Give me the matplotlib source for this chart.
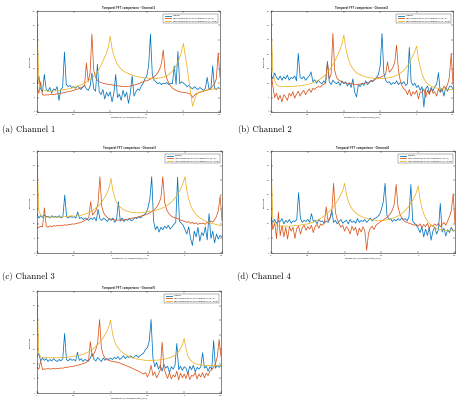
import numpy as np
import matplotlib
matplotlib.use("Agg")
import matplotlib.pyplot as plt

# ---------------- data ----------------
freq = np.linspace(0.0, 2.5, 101)
x_ticks = [0, 0.5, 1, 1.5, 2, 2.5]
x_tick_labels = ["0", "0.5", "1", "1.5", "2", "2.5"]
y_ticks = [0, 5, 10, 15, 20, 25, 30, 35]
series_names = ["original",
                "reconstruction by the harmonics (K=5)",
                "reconstruction by the harmonics (L=256)"]
channels = ["Channel1", "Channel2", "Channel3", "Channel4", "Channel5"]
captions = ["(a) Channel 1", "(b) Channel 2", "(c) Channel 3", "(d) Channel 4"]

orig_a = [9.5, 12.5, 8.0, 7.0, 13.0, 8.0, 7.2, 8.5, 6.5, 8.0,
          7.5, 8.8, 4.0, 7.8, 8.5, 20.8, 9.5, 8.8, 9.2, 8.5,
          8.8, 8.2, 9.0, 8.5, 7.8, 8.6, 9.2, 8.0, 7.5, 8.8,
          13.5, 8.0, 7.2, 16.5, 7.0, 6.0, 7.8, 4.5, 6.8, 5.5,
          7.0, 3.5, 6.5, 13.0, 5.0, 6.2, 4.0, 7.5, 5.2, 6.8,
          3.0, 6.5, 12.5, 5.5, 7.0, 8.0, 7.5, 9.0, 10.0, 11.5,
          12.5, 16.0, 27.0, 13.0, 11.0, 10.5, 9.8, 10.2, 9.5, 10.0,
          9.8, 10.2, 9.5, 10.0, 9.8, 16.0, 9.5, 21.0, 9.8, 10.5,
          10.0, 9.5, 8.8, 9.2, 8.5, 8.0, 8.8, 8.2, 7.8, 8.5,
          8.0, 7.5, 8.2, 12.0, 7.8, 8.0, 16.0, 8.2, 7.8, 8.5,
          8.0]
recK_a = [9.0, 6.5, 10.5, 6.0, 5.8, 6.0, 5.9, 6.0, 6.1, 6.0,
          6.2, 6.3, 6.3, 6.5, 6.6, 6.8, 6.9, 7.0, 7.2, 7.3,
          7.5, 7.7, 7.9, 8.1, 8.4, 8.7, 9.2, 17.0, 10.5, 13.5,
          27.0, 14.5, 12.0, 11.0, 10.5, 10.2, 10.0, 9.8, 9.7, 9.6,
          9.5, 9.4, 9.3, 9.2, 9.1, 9.0, 8.9, 8.8, 8.8, 8.8,
          8.9, 9.0, 9.1, 9.3, 9.5, 9.7, 9.9, 10.2, 10.5, 10.8,
          10.8, 11.1, 11.4, 11.8, 12.2, 12.8, 13.6, 14.8, 16.8, 21.5,
          14.0, 11.5, 10.0, 9.0, 8.3, 7.8, 7.5, 7.2, 7.0, 6.9,
          6.8, 6.7, 6.6, 6.4, 6.0, 5.0, 5.8, 6.4, 6.6, 6.8,
          7.0, 7.2, 7.4, 7.6, 7.9, 8.3, 8.9, 9.8, 11.5, 20.5,
          12.0]
recL_a = [33.0, 10.0, 8.5, 7.8, 7.5, 7.3, 7.2, 7.2, 7.2, 7.3,
          7.3, 7.4, 7.5, 7.6, 7.7, 7.8, 7.9, 8.0, 8.1, 8.3,
          8.5, 8.7, 8.9, 9.1, 9.4, 9.7, 10.0, 10.4, 10.8, 11.3,
          11.8, 12.4, 13.1, 14.0, 15.0, 16.2, 17.6, 19.0, 20.5, 22.5,
          26.3, 22.0, 19.5, 17.8, 16.5, 15.6, 14.9, 14.3, 13.9, 13.6,
          13.3, 13.0, 12.8, 12.6, 12.4, 12.2, 12.1, 12.0, 11.9, 11.8,
          11.8, 11.7, 11.7, 11.6, 11.6, 11.6, 11.7, 11.8, 11.9, 12.1,
          12.3, 12.6, 13.0, 13.5, 14.2, 15.0, 16.0, 17.3, 19.0, 21.0,
          23.8, 19.5, 15.5, 11.0, 6.5, 2.0, 4.0, 5.8, 6.6, 7.0,
          7.2, 7.4, 7.5, 7.6, 7.7, 7.8, 7.9, 8.0, 8.0, 8.1,
          8.1]

orig_b = [13.0, 11.5, 13.5, 12.0, 11.2, 12.5, 11.0, 12.2, 11.5, 12.8,
          11.0, 12.0, 11.6, 12.5, 10.8, 20.3, 12.0, 11.5, 12.3, 11.0,
          11.8, 12.5, 13.9, 10.5, 11.2, 10.0, 11.0, 10.2, 9.8, 10.8,
          10.0, 17.5, 10.5, 9.5, 11.0, 10.2, 9.8, 10.5, 9.2, 10.8,
          9.8, 10.5, 9.0, 10.2, 8.5, 11.5, 6.8, 5.2, 9.5, 8.8,
          10.0, 9.2, 10.8, 9.5, 10.2, 11.0, 10.5, 11.5, 12.0, 13.0,
          16.0, 27.2, 13.5, 11.0, 10.2, 10.5, 9.5, 10.2, 9.8, 10.8,
          9.5, 10.2, 9.8, 10.5, 9.2, 9.8, 22.4, 10.5, 9.2, 10.0,
          8.5, 9.2, 7.5, 8.8, 1.7, 8.0, 9.0, 6.5, 8.5, 7.2,
          8.8, 9.5, 13.6, 7.0, 8.2, 5.5, 8.5, 7.2, 8.8, 9.0,
          8.0]
recK_b = [13.9, 9.0, 5.0, 6.5, 4.2, 5.8, 3.5, 6.0, 5.2, 4.0,
          6.5, 5.5, 7.0, 4.8, 6.2, 7.2, 5.5, 6.8, 7.5, 6.0,
          7.2, 8.0, 6.8, 8.2, 7.8, 8.5, 8.8, 8.6, 9.2, 9.6,
          10.2, 17.4, 11.5, 13.0, 27.2, 14.5, 12.0, 11.2, 10.8, 10.5,
          10.2, 10.0, 9.9, 9.8, 9.8, 9.7, 9.6, 9.5, 9.6, 9.7,
          9.8, 9.9, 10.0, 10.2, 10.4, 10.6, 10.8, 11.2, 11.6, 12.0,
          12.0, 12.3, 12.6, 13.0, 17.4, 13.8, 14.5, 15.5, 17.2, 23.2,
          14.5, 11.0, 9.0, 8.0, 7.5, 6.0, 7.8, 5.5, 7.0, 6.2,
          7.5, 4.5, 7.0, 6.8, 8.0, 5.0, 7.5, 6.0, 8.2, 6.5,
          7.0, 5.5, 8.0, 6.8, 7.5, 9.0, 8.2, 9.5, 12.0, 20.3,
          9.5]
recL_b = [32.5, 14.0, 11.0, 9.5, 9.0, 8.9, 8.8, 8.8, 8.8, 8.8,
          8.8, 8.8, 8.9, 8.9, 9.0, 9.0, 9.1, 9.2, 9.3, 9.4,
          9.5, 9.7, 9.9, 10.1, 10.4, 10.7, 11.0, 11.4, 11.9, 12.4,
          13.0, 13.7, 14.5, 15.4, 16.4, 17.5, 18.8, 20.2, 21.8, 23.5,
          26.7, 22.5, 19.5, 17.5, 16.0, 15.0, 14.2, 13.6, 13.2, 12.9,
          12.6, 12.4, 12.2, 12.0, 11.9, 11.8, 11.7, 11.6, 11.6, 11.6,
          11.6, 11.6, 11.7, 11.7, 11.8, 11.9, 12.0, 12.2, 12.4, 12.7,
          13.0, 13.4, 13.9, 14.5, 15.2, 16.0, 17.0, 18.2, 19.5, 21.0,
          22.8, 18.5, 15.5, 13.2, 11.5, 10.5, 9.8, 9.3, 9.0, 8.7,
          8.5, 8.3, 8.2, 8.1, 8.0, 7.9, 7.9, 7.8, 7.8, 7.8,
          7.8]

orig_c = [13.5, 12.0, 12.8, 12.2, 13.0, 12.4, 12.6, 12.0, 12.8, 12.3,
          12.6, 12.2, 12.8, 12.0, 12.5, 19.9, 12.4, 12.0, 12.6, 12.2,
          12.5, 12.0, 14.1, 11.8, 12.2, 11.5, 12.0, 11.6, 11.2, 12.0,
          11.5, 12.2, 11.0, 15.0, 11.8, 11.2, 12.0, 11.5, 10.8, 11.8,
          11.2, 12.0, 10.5, 11.5, 17.6, 11.0, 12.0, 10.8, 11.5, 11.2,
          11.8, 11.0, 11.5, 12.2, 11.8, 12.5, 12.0, 12.8, 13.2, 13.8,
          15.5, 18.5, 26.2, 11.0, 8.0, 9.2, 7.2, 8.8, 8.0, 9.2,
          8.5, 9.5, 8.2, 9.0, 9.8, 10.5, 26.0, 11.0, 10.2, 9.5,
          8.0, 6.5, 9.0, 5.0, 2.6, 7.5, 5.5, 8.8, 4.0, 7.0,
          6.0, 9.0, 4.5, 13.5, 5.0, 7.5, 3.5, 6.5, 4.8, 6.0,
          5.5]
recK_c = [8.5, 8.8, 9.2, 9.0, 15.5, 9.2, 8.8, 9.3, 9.0, 9.4,
          9.2, 9.5, 9.3, 9.6, 9.4, 9.7, 9.5, 9.8, 9.7, 10.0,
          9.9, 10.1, 10.2, 10.4, 10.6, 10.9, 11.2, 11.6, 12.2, 17.6,
          13.0, 13.8, 14.8, 17.0, 26.2, 16.0, 13.8, 12.8, 12.2, 11.8,
          11.6, 11.5, 11.4, 11.3, 11.3, 11.3, 11.3, 11.4, 11.5, 11.6,
          11.8, 11.9, 12.0, 12.1, 12.2, 12.4, 12.6, 12.8, 13.0, 13.2,
          13.5, 13.8, 14.2, 14.6, 15.2, 16.0, 17.2, 19.0, 26.2, 17.5,
          15.0, 13.8, 13.0, 12.5, 12.2, 12.0, 11.8, 11.5, 11.2, 11.0,
          10.8, 10.5, 10.8, 10.2, 10.5, 10.0, 10.4, 9.8, 10.2, 10.0,
          10.3, 9.8, 10.5, 10.2, 11.0, 10.6, 11.5, 12.5, 14.5, 19.6,
          11.0]
recL_c = [33.0, 14.5, 13.0, 12.6, 12.4, 12.3, 12.3, 12.3, 12.3, 12.3,
          12.3, 12.3, 12.3, 12.4, 12.4, 12.5, 12.5, 12.6, 12.7, 12.8,
          12.6, 12.7, 12.8, 12.9, 13.0, 13.2, 13.4, 13.6, 13.9, 14.2,
          14.6, 15.0, 15.5, 16.0, 16.7, 17.5, 18.5, 19.5, 20.8, 22.5,
          25.6, 21.5, 19.0, 17.5, 16.5, 15.8, 15.2, 14.8, 14.5, 14.3,
          14.1, 14.0, 13.9, 13.8, 13.8, 13.8, 13.8, 13.9, 14.0, 14.1,
          14.2, 14.3, 14.4, 14.5, 14.6, 14.8, 15.0, 15.2, 15.5, 15.8,
          16.2, 16.6, 17.1, 17.7, 18.4, 19.2, 20.1, 21.2, 22.5, 24.0,
          26.2, 21.5, 18.5, 16.5, 15.0, 14.0, 13.2, 12.6, 12.1, 11.7,
          11.3, 11.0, 10.7, 10.5, 10.3, 10.1, 9.9, 9.8, 9.6, 9.5,
          9.5]

orig_d = [12.0, 10.5, 11.5, 10.2, 11.0, 10.8, 11.8, 10.0, 11.2, 10.5,
          11.5, 10.2, 11.0, 10.8, 11.5, 20.7, 11.8, 10.5, 11.2, 10.8,
          11.5, 10.5, 13.5, 10.8, 11.2, 10.0, 11.5, 10.8, 11.0, 10.2,
          11.0, 10.5, 11.8, 14.5, 10.5, 11.2, 10.0, 10.8, 11.5, 10.2,
          10.8, 11.2, 10.0, 11.5, 10.5, 11.0, 10.2, 11.8, 10.5, 11.2,
          10.8, 11.5, 10.5, 11.2, 12.0, 11.0, 11.8, 12.0, 12.5, 13.2,
          15.0, 17.5, 23.9, 13.0, 11.5, 11.8, 10.8, 11.5, 11.0, 11.8,
          11.2, 12.0, 11.5, 11.8, 11.0, 12.5, 23.5, 11.0, 10.2, 9.5,
          8.5, 7.0, 9.0, 5.5, 8.2, 6.0, 8.8, 4.4, 7.5, 9.0,
          6.5, 8.0, 17.0, 7.2, 8.5, 5.8, 8.0, 7.0, 8.8, 7.5,
          7.8]
recK_d = [12.5, 8.0, 10.5, 4.9, 14.1, 6.0, 9.5, 5.5, 8.8, 4.8,
          9.0, 7.5, 8.8, 5.0, 8.5, 9.2, 6.5, 8.8, 9.5, 7.8,
          9.0, 8.2, 9.5, 7.0, 9.2, 9.8, 8.5, 10.0, 9.5, 10.5,
          15.8, 11.0, 12.0, 13.5, 23.9, 14.0, 11.5, 10.0, 8.8, 9.5,
          7.5, 9.0, 8.2, 6.5, 9.2, 7.8, 8.8, 6.0, 8.5, 7.2,
          9.0, 7.5, 0.9, 6.8, 8.5, 9.2, 8.0, 9.5, 10.0, 10.5,
          11.0, 11.3, 11.8, 12.2, 12.8, 13.6, 14.8, 16.8, 23.5, 16.0,
          13.5, 12.0, 11.2, 10.7, 10.5, 10.2, 10.0, 9.8, 9.5, 9.8,
          9.2, 10.0, 8.8, 9.8, 9.0, 10.2, 8.5, 9.6, 9.2, 10.0,
          9.4, 10.2, 9.0, 9.8, 10.5, 9.5, 11.0, 12.5, 14.5, 20.4,
          10.0]
recL_d = [32.0, 11.8, 10.0, 9.5, 9.3, 9.2, 9.2, 9.2, 9.2, 9.2,
          9.2, 9.3, 9.3, 9.4, 9.4, 9.5, 9.6, 9.7, 9.8, 9.9,
          10.0, 10.2, 10.4, 10.6, 10.9, 11.2, 11.5, 11.9, 12.3, 12.8,
          13.3, 13.9, 14.5, 15.2, 16.0, 16.9, 17.8, 18.9, 20.0, 21.5,
          23.9, 20.0, 17.8, 16.3, 15.2, 14.4, 13.8, 13.3, 12.9, 12.6,
          12.3, 12.1, 11.9, 11.7, 11.5, 11.4, 11.3, 11.2, 11.2, 11.2,
          11.2, 11.2, 11.3, 11.4, 11.5, 11.7, 11.9, 12.1, 12.4, 12.7,
          13.1, 13.5, 14.0, 14.6, 15.3, 16.1, 17.0, 18.1, 19.3, 20.8,
          23.0, 18.5, 15.5, 13.5, 12.0, 11.0, 10.2, 9.6, 9.1, 8.7,
          8.4, 8.2, 8.0, 7.9, 7.8, 7.8, 7.8, 7.8, 7.8, 7.8,
          7.8]

orig_e = [12.5, 13.5, 11.0, 12.0, 11.2, 11.8, 10.8, 11.5, 11.0, 11.8,
          11.2, 10.8, 11.5, 11.0, 11.8, 20.4, 11.5, 11.0, 11.8, 11.2,
          11.5, 11.0, 14.0, 11.2, 11.8, 10.8, 11.5, 11.2, 11.0, 12.0,
          13.5, 11.5, 11.0, 12.2, 11.5, 10.8, 12.0, 11.2, 11.8, 11.5,
          12.0, 11.5, 12.2, 11.8, 12.5, 11.5, 12.0, 12.8, 11.8, 12.5,
          12.2, 12.8, 12.0, 12.5, 13.0, 12.2, 12.8, 13.2, 13.8, 15.0,
          15.5, 17.8, 25.2, 12.0, 9.0, 10.5, 8.2, 9.5, 7.5, 9.8,
          8.5, 9.2, 7.0, 9.0, 8.2, 9.5, 17.0, 8.0, 9.2, 7.8,
          9.0, 8.5, 6.5, 9.2, 8.0, 9.5, 7.2, 8.8, 8.2, 9.0,
          13.8, 8.5, 9.2, 7.5, 9.0, 8.2, 18.0, 8.5, 9.5, 8.8,
          9.5]
recK_e = [8.8, 8.2, 11.0, 8.0, 8.3, 8.2, 8.4, 8.2, 8.3, 8.4,
          8.3, 8.5, 8.4, 8.6, 8.5, 8.7, 8.8, 8.9, 9.0, 9.1,
          9.2, 9.4, 9.5, 9.7, 9.9, 10.1, 10.3, 10.6, 11.0, 17.6,
          12.5, 13.5, 15.0, 17.5, 25.2, 15.5, 13.0, 12.0, 11.5, 11.2,
          11.0, 10.8, 10.7, 10.6, 10.5, 10.3, 10.0, 9.8, 9.5, 9.2,
          9.0, 8.7, 8.4, 8.1, 7.8, 7.5, 7.2, 6.8, 6.5, 7.0,
          5.5, 6.8, 9.5, 6.0, 7.2, 5.2, 6.5, 8.0, 17.5, 8.5,
          6.5, 5.0, 7.0, 4.8, 6.2, 5.5, 7.5, 4.5, 6.8, 5.2,
          6.5, 5.0, 7.2, 4.6, 6.0, 5.8, 7.0, 4.8, 6.5, 5.5,
          7.0, 5.2, 6.8, 6.0, 7.5, 8.0, 8.8, 10.0, 12.5, 18.4,
          12.4]
recL_e = [33.0, 13.5, 12.4, 12.2, 12.1, 12.1, 12.1, 12.1, 12.1, 12.1,
          12.1, 12.1, 12.1, 12.2, 12.2, 12.2, 12.3, 12.3, 12.4, 12.5,
          12.6, 12.7, 12.8, 12.9, 13.1, 13.3, 13.5, 13.8, 14.1, 14.5,
          14.9, 15.4, 16.0, 16.6, 17.3, 18.1, 19.0, 20.0, 21.2, 22.6,
          25.0, 20.5, 18.0, 16.5, 15.5, 14.7, 14.1, 13.6, 13.2, 12.9,
          12.6, 12.3, 12.1, 11.9, 11.7, 11.6, 11.5, 11.4, 11.3, 11.2,
          11.2, 11.2, 11.2, 11.2, 11.2, 11.3, 11.3, 11.4, 11.5, 11.6,
          11.7, 11.9, 12.1, 12.3, 12.6, 13.0, 13.5, 14.2, 15.2, 16.5,
          18.7, 15.0, 12.8, 11.6, 10.9, 10.4, 10.1, 9.9, 9.7, 9.6,
          9.5, 9.5, 9.4, 9.4, 9.4, 9.4, 9.4, 9.4, 9.5, 9.5,
          9.5]

panels = [(orig_a, recK_a, recL_a), (orig_b, recK_b, recL_b),
          (orig_c, recK_c, recL_c), (orig_d, recK_d, recL_d),
          (orig_e, recK_e, recL_e)]

# ---------------- layout ----------------
W, H = 458, 409
fig = plt.figure(figsize=(W / 100, H / 100), dpi=100)
fig.patch.set_facecolor("white")

boxes = [(37, 220, 11, 112), (271, 453, 11, 112),
         (37, 222, 151, 253), (271, 455, 151, 253),
         (37, 221, 291, 393)]
caption_pos = [(2, 130), (238, 130), (2, 276.5), (237, 276.5)]
colors = ["#0072BD", "#D95319", "#EDB120"]

for k, (box, data) in enumerate(zip(boxes, panels)):
    l, r, t, b = box
    ax = fig.add_axes([l / W, 1 - b / H, (r - l) / W, (b - t) / H])
    for s, c, name in zip(data, colors, series_names):
        ax.plot(freq, s, color=c, lw=0.55, label=name)
    ax.set_xlim(0, 2.5)
    ax.set_ylim(0, 35)
    ax.set_xticks(x_ticks)
    ax.set_xticklabels(x_tick_labels)
    ax.set_yticks(y_ticks)
    ax.tick_params(direction="in", length=1.5, width=0.3, labelsize=1.5,
                   pad=1.2, top=True, right=True, colors="#262626")
    for sp in ax.spines.values():
        sp.set_linewidth(0.4)
        sp.set_color("#262626")
    ax.set_title("Temporal FFT comparison - " + channels[k], fontsize=1.8,
                 fontweight="bold", pad=1.5, color="#333333")
    ax.set_xlabel("Frequency (cycles/sample) [Hz]", fontsize=1.6, labelpad=1.2)
    ax.set_ylabel("amplitude", fontsize=1.6, labelpad=1.2)
    leg = ax.legend(loc="upper right", fontsize=1.5, frameon=True,
                    fancybox=False, handlelength=3.2, borderpad=0.7,
                    labelspacing=0.35, handletextpad=0.6,
                    bbox_to_anchor=(0.995, 0.985))
    leg.get_frame().set_linewidth(0.3)
    leg.get_frame().set_edgecolor("#262626")
    for ln in leg.get_lines():
        ln.set_linewidth(0.6)

for (cx, cy), cap in zip(caption_pos, captions):
    fig.text(cx / W, 1 - cy / H, cap, fontsize=6.3, family="cmr10",
             va="center", ha="left")

fig.savefig("out.png", dpi=100, facecolor="white")
